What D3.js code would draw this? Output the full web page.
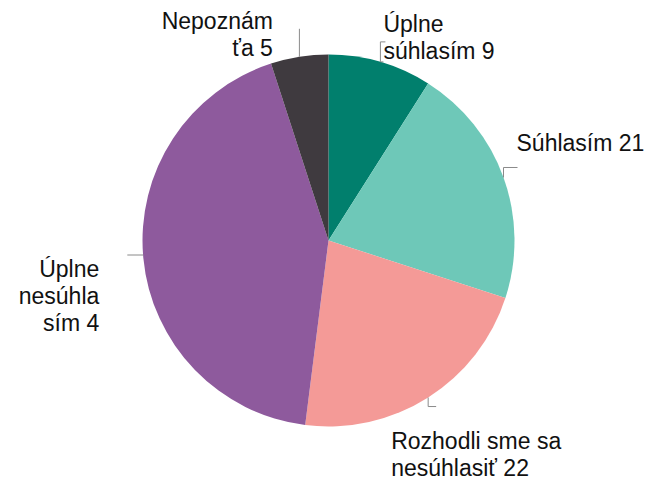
<!DOCTYPE html>
<html>
<head>
<meta charset="utf-8">
<script src="https://cdn.jsdelivr.net/npm/d3@7"></script>
<style>
  html, body { margin: 0; padding: 0; background: #fff; }
  svg text { font-family: "Liberation Sans", Arial, sans-serif; font-size: 23px; fill: #111; }
</style>
</head>
<body>
<svg id="chart" width="662" height="482"></svg>
<script>
// data (percent)
const categories = ["Úplne súhlasím", "Súhlasím", "Rozhodli sme sa nesúhlasiť", "Úplne nesúhlasím", "Nepoznám ťa"];
const values = [9, 21, 22, 43, 5];
const labelLines = [
  ["Úplne", "súhlasím 9"],
  ["Súhlasím 21"],
  ["Rozhodli sme sa", "nesúhlasiť 22"],
  ["Úplne", "nesúhla", "sím 4"],
  ["Nepoznám", "ťa 5"]
];
const colors = ["#017f6d", "#6ec8b8", "#f49a97", "#8e5a9d", "#3f3a3f"];

const width = 662, height = 482;
const cx = 328.5, cy = 240.5, radius = 186;

const svg = d3.select("#chart");
const g = svg.append("g").attr("transform", `translate(${cx},${cy})`);

const pie = d3.pie().sort(null).value(d => d);
const arc = d3.arc().innerRadius(0).outerRadius(radius);
const arcs = pie(values);

// slices
g.selectAll("path.slice")
  .data(arcs)
  .enter().append("path")
    .attr("class", "slice")
    .attr("d", arc)
    .attr("fill", (d, i) => colors[i]);

// leader lines start on the rim at each slice's mid angle
function rim(d) {
  let a = (d.startAngle + d.endAngle) / 2;
  return [Math.sin(a) * radius, -Math.cos(a) * radius];
}

// how each leader runs off the rim, and where its text sits
// (tx, ty = first line's baseline, relative to the rim point)
const leaders = [
  { path: p => `M${p[0] + 5},${p[1] - 20}H${p[0]}V${p[1]}H${p[0] + 3}`, tx: 3, ty: -29.5, anchor: "start" },
  { path: p => `M${p[0] + 14},${p[1] - 10}H${p[0]}V${p[1]}`, tx: 13, ty: -27, anchor: "start" },
  { path: p => `M${p[0]},${p[1]}V${p[1] + 9}H${p[0] + 8}`, tx: -37, ty: 51, anchor: "start" },
  { path: p => `M${p[0]},${p[1] - 3}H${p[0] - 16}`, tx: -44, ty: 19, anchor: "end" },
  { path: p => `M${p[0]},${p[1]}V${p[1] - 28}`, tx: -26.5, ty: -28, anchor: "end" }
];

const lineH = 27;

arcs.forEach((d, i) => {
  let p = rim(d);
  let L = leaders[i];
  g.append("path")
    .attr("d", L.path(p))
    .attr("fill", "none")
    .attr("stroke", "#8a8a8a")
    .attr("stroke-width", 1);

  let t = g.append("text")
    .attr("text-anchor", L.anchor)
    .attr("x", p[0] + L.tx)
    .attr("y", p[1] + L.ty);
  labelLines[i].forEach((s, k) => {
    t.append("tspan")
      .attr("x", p[0] + L.tx)
      .attr("y", p[1] + L.ty + k * lineH)
      .text(s);
  });
});
</script>
</body>
</html>
